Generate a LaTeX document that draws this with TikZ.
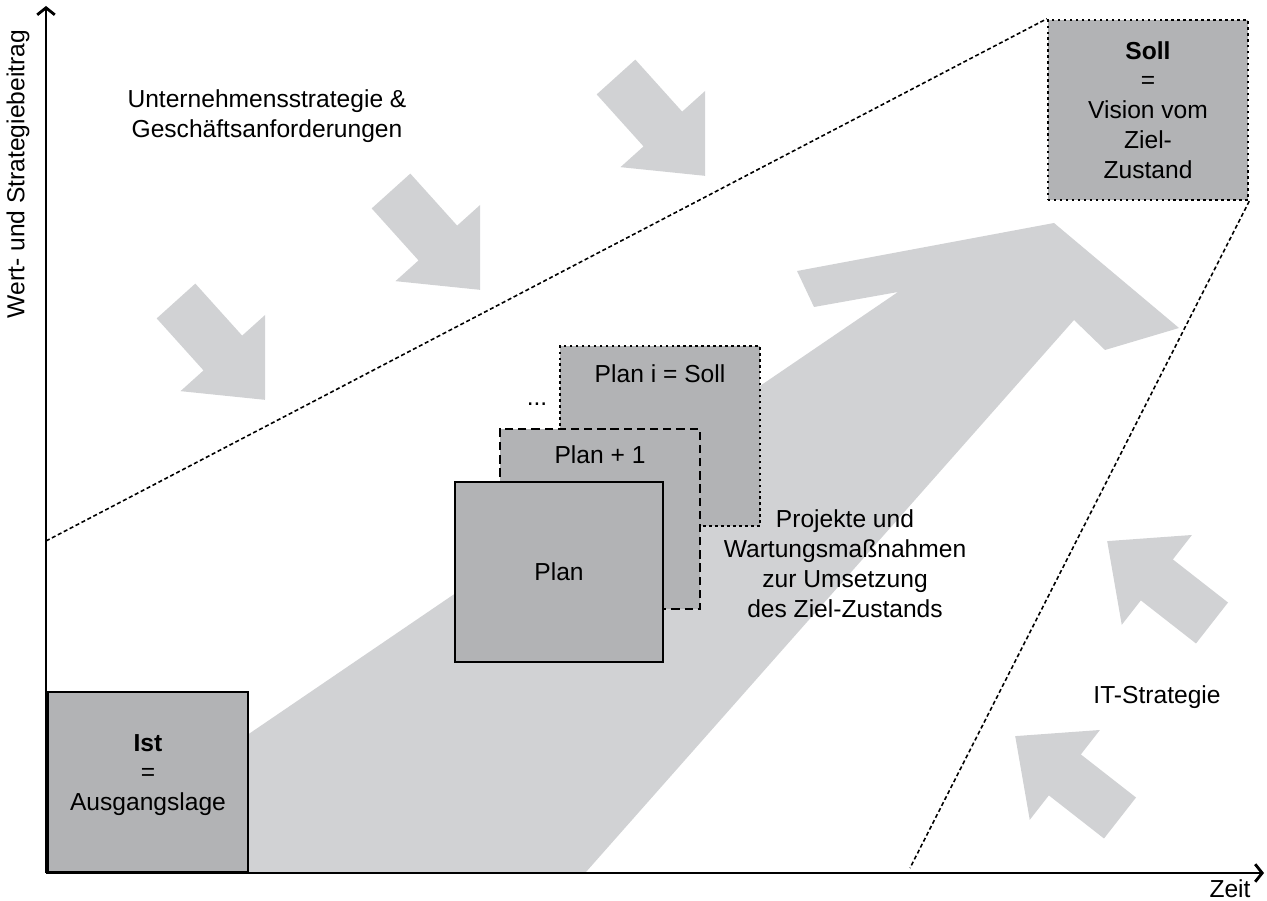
\documentclass[tikz,border=0pt]{standalone}
\usepackage{fontspec}
\setmainfont{Liberation Sans}
\usetikzlibrary{arrows.meta,positioning}
\definecolor{hellgrau}{HTML}{D1D2D4}
\definecolor{boxgrau}{HTML}{B2B3B5}

\begin{document}
\begin{tikzpicture}[x=0.02cm,y=-0.02cm,
	every node/.style={font=\fontsize{14}{17}\selectfont,align=center},
	kasten/.style={draw,fill=boxgrau,line width=0.7pt,minimum width=4cm,minimum height=3.6cm},
	gepunktet/.style={line width=1.4pt,dash pattern=on 1.4pt off 2pt},
	gestrichelt/.style={line width=1.1pt,dash pattern=on 4.7pt off 2.8pt},
	grenze/.style={line width=0.9pt,dash pattern=on 2.3pt off 1.5pt},
	achse/.style={line width=1.6pt,-{Straight Barb[length=4pt,width=10pt]}},
	pfeil/.pic={\fill[hellgrau] (0,-26) -- (70,-26) -- (70,-57) -- (133,0)
		-- (70,57) -- (70,26) -- (0,26) -- cycle;}]
\useasboundingbox (0,0) rectangle (1267,901);

% grosser Pfeil
\fill[hellgrau] (46,872) -- (898,292) -- (814,307) -- (797,271) -- (1054,223)
	-- (1179,328) -- (1105,350) -- (1074,320) -- (586,872) -- cycle;

% kleine Pfeile
\pic[rotate=-48] at (176,301) {pfeil};
\pic[rotate=-48] at (391,191) {pfeil};
\pic[rotate=-48] at (616,77) {pfeil};
\pic[rotate=142] at (1212,623) {pfeil};
\pic[rotate=142] at (1120,818) {pfeil};

% Soll und Grenzen
\node[kasten,gepunktet] (soll) at (1148,110) {\textbf{Soll}\\=\\Vision vom\\Ziel-\\Zustand};
\coordinate (ulinks) at (46,541);
\coordinate (runten) at (910,868);
\draw[grenze] (ulinks) -- (soll.north west);
\draw[grenze] (soll.south east) -- (runten);

% Plaene
\node[kasten,gepunktet] (plani) at (660,436) {};
\node[below=8pt of plani.north] (planitext) {Plan i = Soll};
\node (punkte) at (537,404) {...};
\node[kasten,gestrichelt] (planeins) at (600,519) {};
\node[below=6.5pt of planeins.north] (planeinstext) {Plan + 1};
\node[kasten,minimum width=4.16cm] (plan) at (559,572) {Plan};

% Ist
\node[kasten] (ist) at (148,782) {};
\node (isttext) at (148,775) {\textbf{Ist}\\=\\Ausgangslage};

% Beschriftungen
\node (unternehmen) at (267,116) {Unternehmensstrategie \&\\Geschäftsanforderungen};
\node (projekte) at (845,564) {Projekte und\\Wartungsmaßnahmen\\zur Umsetzung\\des Ziel-Zustands};
\node (itstrategie) at (1157,697) {IT-Strategie};
\node (zeit) at (1230,889) {Zeit};
\node[rotate=90] (wert) at (18,174) {Wert- und Strategiebeitrag};

% Achsen
\coordinate (ursprung) at (46,873);
\draw[achse] (ursprung) -- (46,6);
\draw[achse] (ursprung) -- (1264,873);
\end{tikzpicture}
\end{document}
